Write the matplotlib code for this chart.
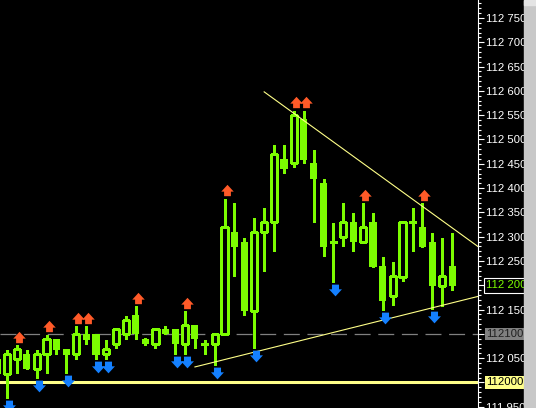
import matplotlib
matplotlib.use("Agg")
import matplotlib.pyplot as plt
from matplotlib.path import Path
from matplotlib.patches import Rectangle
from matplotlib.ticker import MultipleLocator, FuncFormatter
from matplotlib.transforms import ScaledTranslation

plt.rcParams['font.family'] = ['Liberation Sans', 'DejaVu Sans']
plt.rcParams['lines.scale_dashes'] = False

# bougies de gauche a droite (la premiere est coupee par le bord)
ouvertures = [112048, 112017, 112048, 112059, 112028, 112059, 112090, 112069, 112059, 112100,
              112100, 112059, 112079, 112100, 112139, 112090, 112079, 112110, 112110, 112079,
              112118, 112079, 112079, 112100, 112310, 112289, 112147, 112310, 112330, 112460,
              112452, 112542, 112452, 112411, 112289, 112299, 112330, 112289, 112330, 112240,
              112178, 112217, 112330, 112320, 112289, 112199, 112240]
hauts = [112052, 112067, 112077, 112067, 112067, 112098, 112090, 112069, 112116, 112116,
         112100, 112087, 112110, 112137, 112157, 112092, 112110, 112116, 112110, 112147,
         112118, 112087, 112100, 112378, 112369, 112297, 112339, 112359, 112489, 112489,
         112559, 112559, 112478, 112419, 112328, 112369, 112349, 112369, 112349, 112258,
         112248, 112330, 112359, 112369, 112308, 112297, 112308]
bas = [112012, 111968, 112020, 112028, 112009, 112020, 112059, 112020, 112048, 112079,
       112048, 112048, 112071, 112090, 112090, 112077, 112071, 112100, 112059, 112059,
       112071, 112059, 112036, 112100, 112219, 112139, 112071, 112229, 112271, 112431,
       112443, 112452, 112330, 112260, 112207, 112281, 112271, 112289, 112238, 112149,
       112160, 112209, 112271, 112279, 112151, 112157, 112190]
clotures = [112017, 112059, 112069, 112028, 112059, 112090, 112067, 112057, 112100, 112087,
            112057, 112069, 112110, 112129, 112100, 112079, 112110, 112100, 112079, 112118,
            112090, 112079, 112100, 112320, 112279, 112147, 112310, 112330, 112470, 112439,
            112550, 112458, 112419, 112279, 112289, 112330, 112289, 112320, 112238, 112168,
            112219, 112330, 112330, 112279, 112199, 112219, 112199]

# fractales (index des bougies)
fleches_haut = [2, 5, 8, 9, 14, 19, 23, 30, 31, 37, 43]
fleches_bas = [1, 4, 7, 10, 11, 18, 19, 22, 26, 34, 39, 44]

# lignes de tendance
ligne_haute_x = [27.0, 48.6]
ligne_haute_y = [112598, 112280]
ligne_basse_x = [20.0, 48.6]
ligne_basse_y = [112032, 112177]

niveau_gris = 112100
niveau_jaune = 112000
prix_actuel = 112200

VERT = '#7CFC00'
ORANGE = '#FF5A28'
BLEU = '#1480FF'
JAUNE = '#FFFF88'


def fleche(vers_haut=True):
    pts = [(-3, -5), (3, -5), (3, -1), (5.5, -1), (0, 5), (-5.5, -1), (-3, -1), (-3, -5)]
    if not vers_haut:
        pts = [(a, -b) for a, b in pts]
    return Path(pts, closed=True)


fig = plt.figure(figsize=(5.36, 4.08), dpi=100, facecolor='black')
ax = fig.add_axes([0, 0, 478 / 536, 1], facecolor='black')

x = list(range(len(ouvertures)))

# niveaux horizontaux
ax.axhline(niveau_jaune, color=JAUNE, lw=2.2, zorder=1)
ax.axhline(niveau_gris, color='#808080', lw=0.9, dashes=(11.5, 5.5), zorder=1)

# meches puis corps
ax.vlines(x, bas, hauts, color=VERT, lw=0.75, antialiased=False, zorder=2)
hausse = [i for i in x if clotures[i] > ouvertures[i]]
baisse = [i for i in x if clotures[i] < ouvertures[i]]
egal = [i for i in x if clotures[i] == ouvertures[i]]
ax.bar(hausse, [clotures[i] - ouvertures[i] for i in hausse],
       bottom=[ouvertures[i] for i in hausse], width=0.64,
       facecolor='black', edgecolor=VERT, lw=0.75, antialiased=False, zorder=3)
ax.bar(baisse, [ouvertures[i] - clotures[i] for i in baisse],
       bottom=[clotures[i] for i in baisse], width=0.72,
       color=VERT, lw=0, antialiased=False, zorder=3)
ax.hlines([clotures[i] for i in egal], [i - 0.36 for i in egal], [i + 0.36 for i in egal],
          color=VERT, lw=0.75, antialiased=False, zorder=3)

# trendlines
ax.plot(ligne_haute_x, ligne_haute_y, color=JAUNE, lw=0.8, zorder=4)
ax.plot(ligne_basse_x, ligne_basse_y, color=JAUNE, lw=0.8, zorder=4)

# fleches au-dessus des hauts / sous les bas
decal_h = ax.transData + ScaledTranslation(2 / 100, 8.5 / 100, fig.dpi_scale_trans)
decal_b = ax.transData + ScaledTranslation(2 / 100, -8 / 100, fig.dpi_scale_trans)
ax.plot(fleches_haut, [hauts[i] for i in fleches_haut], ls='none', marker=fleche(True),
        markersize=9, color=ORANGE, mew=0, transform=decal_h, zorder=5, clip_on=False,
        antialiased=False)
ax.plot(fleches_bas, [bas[i] for i in fleches_bas], ls='none', marker=fleche(False),
        markersize=9.3, color=BLEU, mew=0, transform=decal_b, zorder=5, clip_on=False,
        antialiased=False)

ax.set_xlim(0.292, 48.62)
ax.set_ylim(111947.5, 112787)

# axe des prix a droite
for s in ['left', 'top', 'bottom']:
    ax.spines[s].set_visible(False)
ax.spines['right'].set_color('white')
ax.spines['right'].set_linewidth(0.8)
ax.set_xticks([])
ax.yaxis.tick_right()
ax.yaxis.set_major_locator(MultipleLocator(50))
ax.yaxis.set_minor_locator(MultipleLocator(10))
speciaux = (niveau_jaune, niveau_gris, prix_actuel)
ax.yaxis.set_major_formatter(FuncFormatter(
    lambda v, pos: '' if round(v) in speciaux else f"{int(round(v)):,}".replace(',', ' ')))
ax.tick_params(axis='y', which='major', length=4.3, width=0.8, color='white',
               labelcolor='white', labelsize=8.2, pad=1.5)
ax.tick_params(axis='y', which='minor', length=2.2, width=0.8, color='white')

# etiquettes encadrees
ax.annotate("112100", xy=(1, niveau_gris), xycoords=('axes fraction', 'data'),
            xytext=(6, 0), textcoords='offset points', va='center', ha='left',
            fontsize=8.2, color='#202020', annotation_clip=False,
            bbox=dict(boxstyle='square,pad=0.12', fc='#808080', ec='none'))
ax.annotate("112000", xy=(1, niveau_jaune), xycoords=('axes fraction', 'data'),
            xytext=(6, 0), textcoords='offset points', va='center', ha='left',
            fontsize=8.2, color='black', annotation_clip=False,
            bbox=dict(boxstyle='square,pad=0.12', fc=JAUNE, ec='none'))
ax.annotate("112 200", xy=(1, prix_actuel), xycoords=('axes fraction', 'data'),
            xytext=(6, 0), textcoords='offset points', va='center', ha='left',
            fontsize=8.2, color=VERT, annotation_clip=False,
            bbox=dict(boxstyle='square,pad=0.2', fc='black', ec='white', lw=0.8))

# bande grise a droite
fig.add_artist(Rectangle((524 / 536, 0), 12 / 536, 1, transform=fig.transFigure,
                         color='#C8C8C8', zorder=10))
fig.add_artist(Rectangle((524 / 536, 1 - 5 / 408), 12 / 536, 5 / 408, transform=fig.transFigure,
                         color='#E4E4E4', zorder=11))

fig.savefig("out.png", dpi=100, facecolor='black')
